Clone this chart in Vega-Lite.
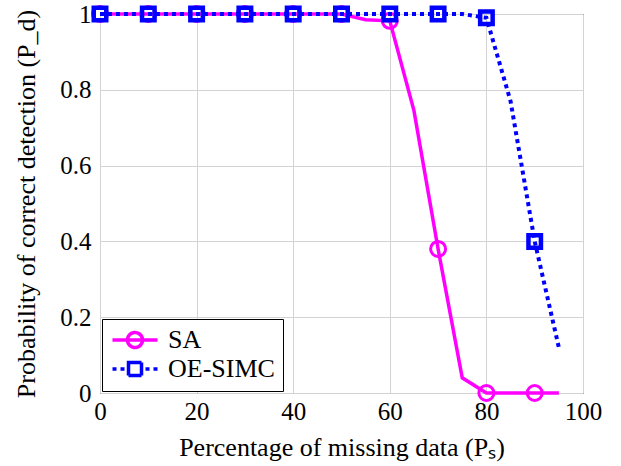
{
  "$schema": "https://vega.github.io/schema/vega-lite/v6.json",
  "width": 483,
  "height": 379,
  "autosize": {"type": "none"},
  "padding": {"left": 100, "top": 14, "right": 38, "bottom": 73},
  "background": "#ffffff",
  "config": {
    "font": "Liberation Serif",
    "view": {"stroke": "#000000", "strokeWidth": 1},
    "axis": {"labelFont": "Liberation Serif", "titleFont": "Liberation Serif", "labelFontSize": 25, "titleFontSize": 26}
  },
  "data": {
    "values": [
      {"x": 0, "y": 1, "series": "SA"},
      {"x": 5, "y": 1, "series": "SA"},
      {"x": 10, "y": 1, "series": "SA"},
      {"x": 15, "y": 1, "series": "SA"},
      {"x": 20, "y": 1, "series": "SA"},
      {"x": 25, "y": 1, "series": "SA"},
      {"x": 30, "y": 1, "series": "SA"},
      {"x": 35, "y": 1, "series": "SA"},
      {"x": 40, "y": 1, "series": "SA"},
      {"x": 45, "y": 1, "series": "SA"},
      {"x": 50, "y": 1, "series": "SA"},
      {"x": 55, "y": 0.985, "series": "SA"},
      {"x": 60, "y": 0.982, "series": "SA"},
      {"x": 65, "y": 0.745, "series": "SA"},
      {"x": 70, "y": 0.38, "series": "SA"},
      {"x": 75, "y": 0.04, "series": "SA"},
      {"x": 80, "y": 0, "series": "SA"},
      {"x": 85, "y": 0, "series": "SA"},
      {"x": 90, "y": 0, "series": "SA"},
      {"x": 95, "y": 0, "series": "SA"},
      {"x": 0, "y": 1, "series": "OE-SIMC"},
      {"x": 5, "y": 1, "series": "OE-SIMC"},
      {"x": 10, "y": 1, "series": "OE-SIMC"},
      {"x": 15, "y": 1, "series": "OE-SIMC"},
      {"x": 20, "y": 1, "series": "OE-SIMC"},
      {"x": 25, "y": 1, "series": "OE-SIMC"},
      {"x": 30, "y": 1, "series": "OE-SIMC"},
      {"x": 35, "y": 1, "series": "OE-SIMC"},
      {"x": 40, "y": 1, "series": "OE-SIMC"},
      {"x": 45, "y": 1, "series": "OE-SIMC"},
      {"x": 50, "y": 1, "series": "OE-SIMC"},
      {"x": 55, "y": 1, "series": "OE-SIMC"},
      {"x": 60, "y": 1, "series": "OE-SIMC"},
      {"x": 65, "y": 1, "series": "OE-SIMC"},
      {"x": 70, "y": 1, "series": "OE-SIMC"},
      {"x": 75, "y": 1, "series": "OE-SIMC"},
      {"x": 80, "y": 0.99, "series": "OE-SIMC"},
      {"x": 85, "y": 0.77, "series": "OE-SIMC"},
      {"x": 90, "y": 0.4, "series": "OE-SIMC"},
      {"x": 95, "y": 0.12, "series": "OE-SIMC"}
    ]
  },
  "layer": [
    {
      "transform": [{"filter": "datum.series === 'SA'"}],
      "mark": {"type": "line", "strokeWidth": 3.5, "strokeCap": "butt", "strokeJoin": "miter"},
      "encoding": {
        "x": {
          "field": "x",
          "type": "quantitative",
          "scale": {"domain": [0, 100], "nice": false, "zero": false},
          "axis": {
            "values": [0, 20, 40, 60, 80, 100],
            "grid": true, "gridColor": "#d3d3d3", "gridWidth": 1, "domain": false, "ticks": false,
            "labelFlush": false,
            "labelFont": "Liberation Serif", "labelFontSize": 25, "labelColor": "#000000", "labelPadding": 6,
            "titleFont": "Liberation Serif", "titleFontSize": 26, "titleFontWeight": "normal", "titleColor": "#000000", "titlePadding": 10,
            "title": "Percentage of missing data (Pₛ)"
          }
        },
        "y": {
          "field": "y",
          "type": "quantitative",
          "scale": {"domain": [0, 1], "nice": false, "zero": false},
          "axis": {
            "values": [0, 0.2, 0.4, 0.6, 0.8, 1], "format": "~g",
            "grid": true, "gridColor": "#d3d3d3", "gridWidth": 1, "domain": false, "ticks": false,
            "labelFlush": false,
            "labelFont": "Liberation Serif", "labelFontSize": 25, "labelColor": "#000000", "labelPadding": 9,
            "titleFont": "Liberation Serif", "titleFontSize": 26, "titleFontWeight": "normal", "titleColor": "#000000", "titlePadding": 20,
            "title": "Probability of correct detection (P_d)"
          }
        },
        "color": {
          "field": "series",
          "type": "nominal",
          "scale": {"domain": ["SA", "OE-SIMC"], "range": ["#ff00ff", "#0000ff"]},
          "legend": {
            "orient": "bottom-left",
            "offset": 2,
            "title": null,
            "labelFont": "Liberation Serif",
            "labelFontSize": 26,
            "labelColor": "#000000",
            "padding": 8,
            "strokeColor": "#000000",
            "fillColor": "#ffffff",
            "cornerRadius": 0,
            "symbolSize": 400,
            "symbolStrokeWidth": 3.5,
            "symbolOffset": 12,
            "labelOffset": 20,
            "rowPadding": 0,
            "encode": {
              "symbols": {
                "update": {
                  "shape": {"signal": "datum.value === 'SA' ? 'M-2.25,0H2.25M-0.75,0A0.75,0.75,0,1,1,0.75,0A0.75,0.75,0,1,1,-0.75,0' : 'M-2.25,0H-1.85M-1.45,0H-1.05M1.05,0H1.45M1.85,0H2.25M-0.65,-0.65H0.65V0.65H-0.65Z'"},
                  "fill": {"value": "transparent"},
                  "strokeDash": {"value": [1, 0]},
                  "strokeWidth": {"value": 3.5}
                }
              }
            }
          }
        }
      }
    },
    {
      "transform": [{"filter": "datum.series === 'SA' && datum.x % 10 === 0"}],
      "mark": {"type": "point", "shape": "circle", "filled": false, "size": 225, "strokeWidth": 3, "opacity": 1},
      "encoding": {
        "x": {"field": "x", "type": "quantitative"},
        "y": {"field": "y", "type": "quantitative"},
        "color": {"field": "series", "type": "nominal", "legend": null}
      }
    },
    {
      "transform": [{"filter": "datum.series === 'OE-SIMC'"}],
      "mark": {"type": "line", "strokeWidth": 4, "strokeDash": [4, 4], "strokeCap": "butt"},
      "encoding": {
        "x": {"field": "x", "type": "quantitative"},
        "y": {"field": "y", "type": "quantitative"},
        "color": {"field": "series", "type": "nominal", "legend": null}
      }
    },
    {
      "transform": [{"filter": "datum.series === 'OE-SIMC' && datum.x % 10 === 0"}],
      "mark": {"type": "point", "shape": "square", "filled": false, "size": 156, "strokeWidth": 4.5, "opacity": 1},
      "encoding": {
        "x": {"field": "x", "type": "quantitative"},
        "y": {"field": "y", "type": "quantitative"},
        "color": {"field": "series", "type": "nominal", "legend": null}
      }
    }
  ]
}
